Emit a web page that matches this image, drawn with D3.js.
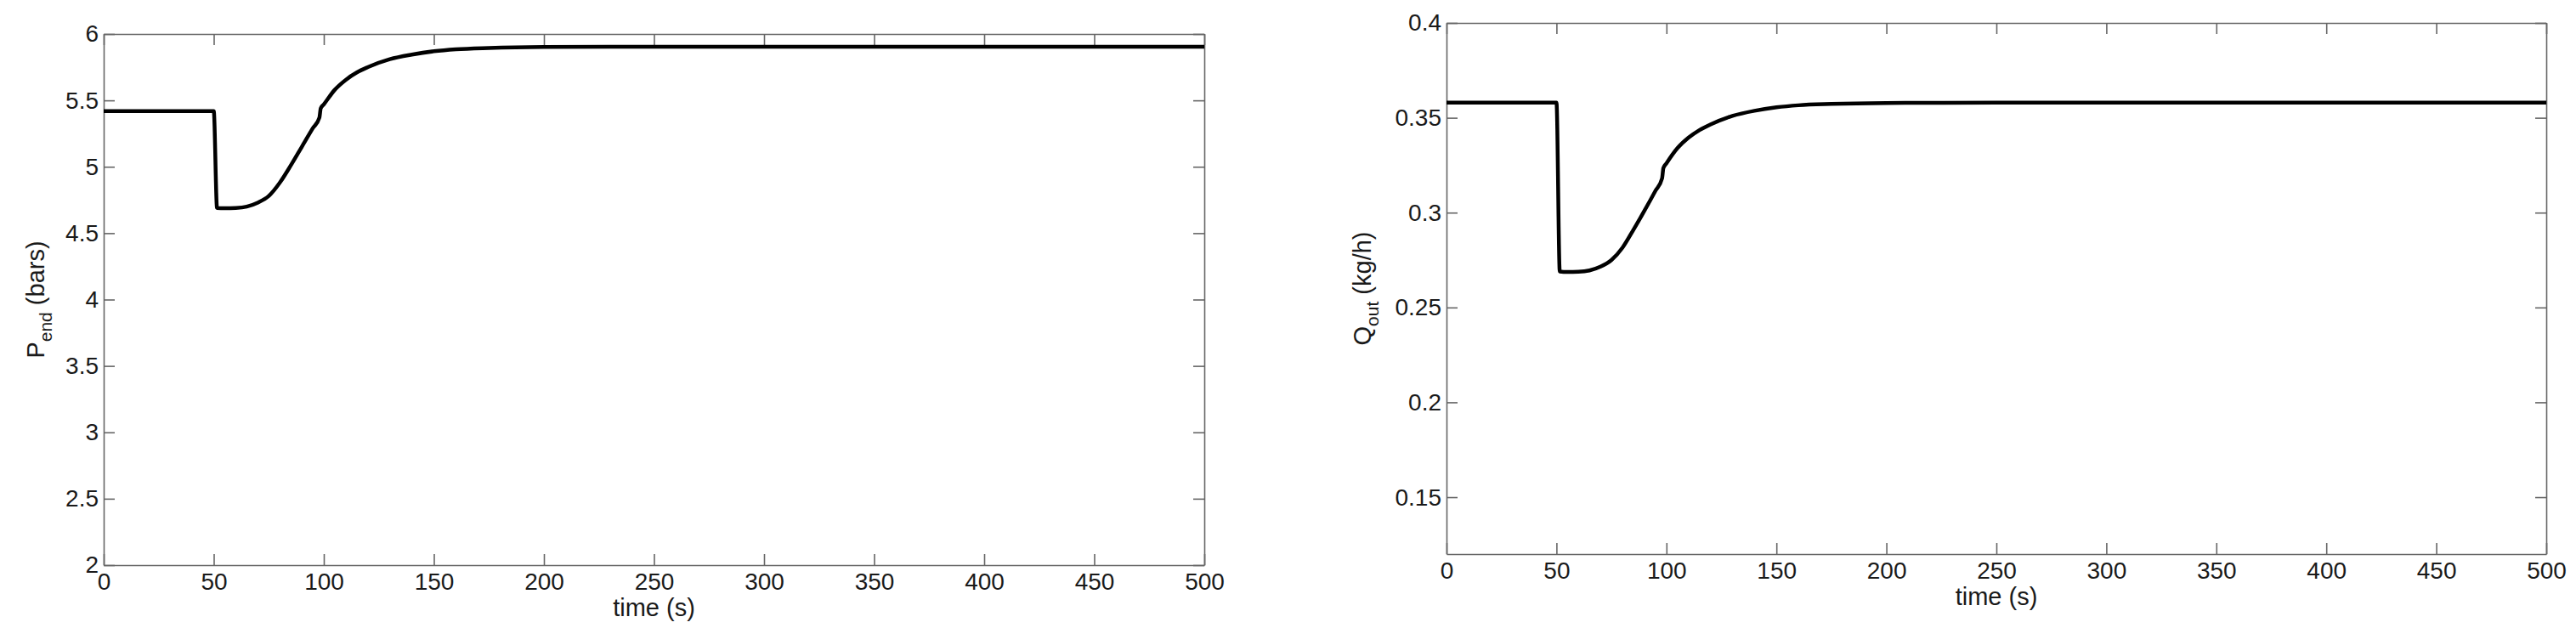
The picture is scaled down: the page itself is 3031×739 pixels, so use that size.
<!DOCTYPE html>
<html>
<head>
<meta charset="utf-8">
<script src="https://cdn.jsdelivr.net/npm/d3@7"></script>
<style>
  html, body { margin: 0; padding: 0; background: #fff; }
  svg { display: block; }
  text { font-family: "Liberation Sans", Arial, sans-serif; fill: #1a1a1a; }
</style>
</head>
<body>
<svg id="chart" width="3031" height="739"></svg>
<script>
// ---- data ----
const times = [0, 50, 51.5, 55, 60, 65, 70, 75, 80, 85, 90, 95, 98, 98.6, 100, 105, 110, 115, 120, 130, 140, 150, 160, 175, 200, 250, 300, 350, 400, 450, 500];
const pEnd  = [5.42, 5.42, 4.69, 4.688, 4.69, 4.70, 4.73, 4.78, 4.88, 5.01, 5.15, 5.29, 5.37, 5.44, 5.47, 5.58, 5.655, 5.71, 5.75, 5.81, 5.845, 5.87, 5.885, 5.895, 5.902, 5.904, 5.904, 5.904, 5.904, 5.904, 5.904];
const qOut  = [0.358, 0.358, 0.269, 0.2687, 0.2688, 0.2695, 0.2715, 0.275, 0.2815, 0.291, 0.301, 0.3115, 0.318, 0.3235, 0.326, 0.334, 0.3395, 0.3435, 0.3465, 0.351, 0.3537, 0.3555, 0.3566, 0.3573, 0.3578, 0.358, 0.358, 0.358, 0.358, 0.358, 0.358];
const xTicks = [0, 50, 100, 150, 200, 250, 300, 350, 400, 450, 500];
const yTicksLeft = [2, 2.5, 3, 3.5, 4, 4.5, 5, 5.5, 6];
const yTicksRight = [0.15, 0.2, 0.25, 0.3, 0.35, 0.4];
const xLabel = "time (s)";

const svg = d3.select("#chart");
const axisColor = "#666";

function panel(cfg) {
  const g = svg.append("g");
  const x = d3.scaleLinear().domain([0, 500]).range([cfg.x0, cfg.x1]);
  const y = d3.scaleLinear().domain(cfg.yDomain).range([cfg.y1, cfg.y0]);
  const tick = 13;

  const styleAxis = sel => {
    sel.select(".domain").attr("stroke", axisColor).attr("stroke-width", 1.6);
    sel.selectAll(".tick line").attr("stroke", axisColor).attr("stroke-width", 1.6);
    sel.selectAll(".tick text").attr("fill", "#1a1a1a").style("font-size", "28px")
      .style("font-family", '"Liberation Sans", Arial, sans-serif');
  };

  // bottom
  g.append("g").attr("transform", `translate(0,${cfg.y1})`)
    .call(d3.axisBottom(x).tickValues(xTicks).tickSize(-tick).tickSizeOuter(0).tickPadding(9).tickFormat(d => String(d)))
    .call(styleAxis);
  // top
  g.append("g").attr("transform", `translate(0,${cfg.y0})`)
    .call(d3.axisTop(x).tickValues(xTicks).tickSize(-tick).tickSizeOuter(0).tickFormat(""))
    .call(styleAxis);
  // left
  g.append("g").attr("transform", `translate(${cfg.x0},0)`)
    .call(d3.axisLeft(y).tickValues(cfg.yTicks).tickSize(-tick).tickSizeOuter(0).tickPadding(6).tickFormat(d => String(d)))
    .call(styleAxis);
  // right
  g.append("g").attr("transform", `translate(${cfg.x1},0)`)
    .call(d3.axisRight(y).tickValues(cfg.yTicks).tickSize(-tick).tickSizeOuter(0).tickFormat(""))
    .call(styleAxis);

  // data line
  const line = d3.line().x((d, i) => x(times[i])).y(d => y(d)).curve(d3.curveMonotoneX);
  g.append("path").datum(cfg.values)
    .attr("fill", "none").attr("stroke", "#000").attr("stroke-width", 4.5)
    .attr("stroke-linejoin", "round").attr("stroke-linecap", "butt")
    .attr("d", line);

  // x label
  g.append("text").attr("x", (cfg.x0 + cfg.x1) / 2).attr("y", cfg.y1 + 60)
    .attr("text-anchor", "middle").style("font-size", "29px").text(xLabel);

  // y label with subscript
  const yl = g.append("text")
    .attr("transform", `translate(${cfg.ylx},${(cfg.y0 + cfg.y1) / 2}) rotate(-90)`)
    .attr("text-anchor", "middle").style("font-size", "29px");
  yl.append("tspan").text(cfg.ySym);
  yl.append("tspan").attr("dy", 9).style("font-size", "21px").text(cfg.ySub);
  yl.append("tspan").attr("dy", -9).text(" " + cfg.yUnit);
}

panel({ x0: 122, x1: 1417, y0: 40, y1: 665, yDomain: [2, 6], yTicks: yTicksLeft, values: pEnd,
        ylx: 52, ySym: "P", ySub: "end", yUnit: "(bars)" });
panel({ x0: 1702, x1: 2996, y0: 27, y1: 652, yDomain: [0.12, 0.4], yTicks: yTicksRight, values: qOut,
        ylx: 1613, ySym: "Q", ySub: "out", yUnit: "(kg/h)" });
</script>
</body>
</html>
